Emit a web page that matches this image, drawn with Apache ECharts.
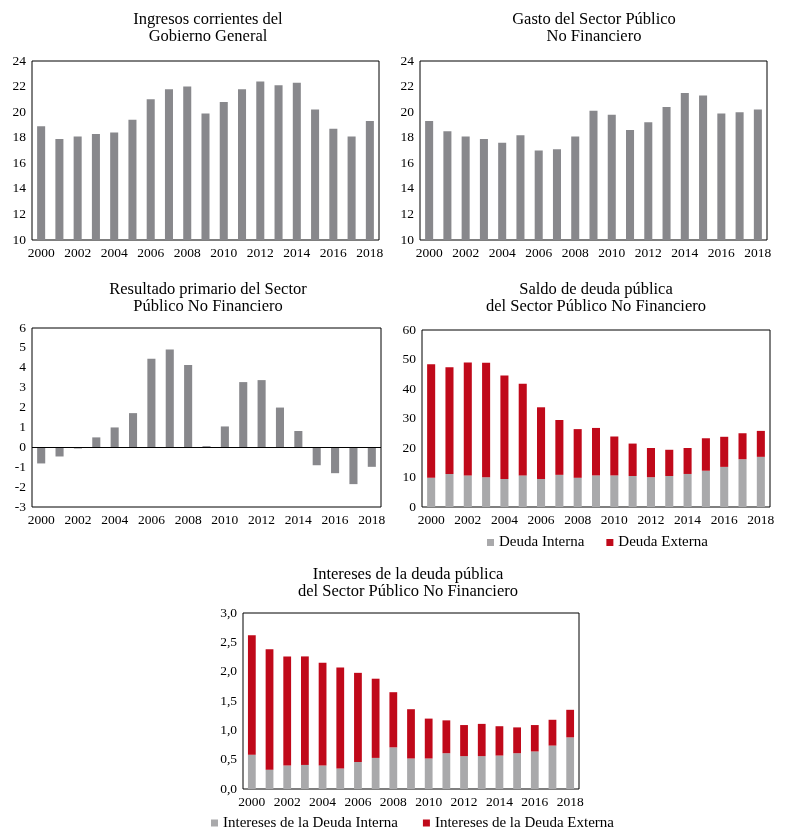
<!DOCTYPE html>
<html>
<head>
<meta charset="utf-8">
<script src="https://cdn.jsdelivr.net/npm/echarts@6/dist/echarts.min.js"></script>
<style>
html,body{margin:0;padding:0;background:#fff;}
#c{width:788px;height:838px;}
</style>
</head>
<body>
<div id="c"></div>
<script>
const years = ['2000','2001','2002','2003','2004','2005','2006','2007','2008','2009','2010','2011','2012','2013','2014','2015','2016','2017','2018'];

const ingresos = [18.9,17.9,18.1,18.3,18.4,19.4,21.0,21.8,22.0,19.9,20.8,21.8,22.4,22.1,22.3,20.2,18.7,18.1,19.3];
const gasto = [19.3,18.5,18.1,17.9,17.6,18.2,17.0,17.1,18.1,20.1,19.8,18.6,19.2,20.4,21.5,21.3,19.9,20.0,20.2];
const resultado = [-0.81,-0.46,-0.06,0.5,1.0,1.72,4.46,4.92,4.14,0.06,1.05,3.28,3.38,2.0,0.82,-0.9,-1.3,-1.85,-0.98];

const deudaInterna = [9.9,11.2,10.7,10.1,9.5,10.7,9.5,10.9,9.9,10.7,10.7,10.5,10.1,10.5,11.2,12.3,13.6,16.2,17.0];
const deudaExterna = [38.5,36.2,38.3,38.8,35.1,31.1,24.3,18.6,16.5,16.1,13.2,11.0,9.9,8.9,8.8,11.0,10.2,8.8,8.8];

const interesesInterna = [0.585,0.33,0.40,0.41,0.40,0.35,0.46,0.53,0.71,0.52,0.52,0.61,0.56,0.56,0.57,0.61,0.64,0.74,0.88];
const interesesExterna = [2.035,2.05,1.86,1.85,1.75,1.72,1.52,1.35,0.94,0.84,0.68,0.56,0.53,0.55,0.50,0.44,0.45,0.44,0.47];

const FONT = 'Liberation Serif';
const GRAY = '#88888c';
const LGRAY = '#a9a9ab';
const RED = '#c0091a';

const grids = [
  {left:32, top:61, width:347, height:179},
  {left:420, top:61, width:347, height:179},
  {left:32, top:328, width:349, height:179},
  {left:422, top:330, width:348, height:177},
  {left:243, top:613, width:336, height:176}
];
grids.forEach(g => { g.show = true; g.borderColor = '#000'; g.borderWidth = 1; g.backgroundColor = 'transparent'; });

function xAx(i){
  return {
    type:'category', gridIndex:i, data:years,
    axisLine:{show:false, onZero:false}, axisTick:{show:false},
    axisLabel:{interval:1, color:'#000', fontFamily:FONT, fontSize:13.5, margin:6}
  };
}
function yAx(i,min,max,interval,fmt){
  return {
    type:'value', gridIndex:i, min:min, max:max, interval:interval,
    axisLine:{show:false}, axisTick:{show:false}, splitLine:{show:false},
    axisLabel:{color:'#000', fontFamily:FONT, fontSize:13.5, margin:6, formatter:fmt}
  };
}
const titleStyle = {color:'#000', fontFamily:FONT, fontSize:16.5, fontWeight:'normal', lineHeight:17};
function ttl(text,x,y){
  return {text:text, left:x, top:y, textAlign:'center', padding:0, itemGap:0, textStyle:titleStyle};
}
const BW = '44%';
const legText = {color:'#000', fontFamily:FONT, fontSize:15};

const option = {
  animation:false,
  backgroundColor:'#fff',
  title:[
    ttl('Ingresos corrientes del\nGobierno General',208,11.5),
    ttl('Gasto del Sector Público\nNo Financiero',594,11.5),
    ttl('Resultado primario del Sector\nPúblico No Financiero',208,281.5),
    ttl('Saldo de deuda pública\ndel Sector Público No Financiero',596,281.5),
    ttl('Intereses de la deuda pública\ndel Sector Público No Financiero',408,566.5)
  ],
  legend:[
    {left:487, top:535, padding:0, icon:'rect', itemWidth:7, itemHeight:7, itemGap:22,
     textStyle:legText, data:['Deuda Interna','Deuda Externa']},
    {left:211, top:815.5, padding:0, icon:'rect', itemWidth:7, itemHeight:7, itemGap:25,
     textStyle:legText, data:['Intereses de la Deuda Interna','Intereses de la Deuda Externa']}
  ],
  grid:grids,
  xAxis:[xAx(0),xAx(1),xAx(2),xAx(3),xAx(4)],
  yAxis:[
    yAx(0,10,24,2),
    yAx(1,10,24,2),
    yAx(2,-3,6,1),
    yAx(3,0,60,10),
    yAx(4,0,3,0.5,v=>v.toFixed(1).replace('.',','))
  ],
  series:[
    {type:'bar', name:'Ingresos', xAxisIndex:0, yAxisIndex:0, data:ingresos, barWidth:BW, itemStyle:{color:GRAY}},
    {type:'bar', name:'Gasto', xAxisIndex:1, yAxisIndex:1, data:gasto, barWidth:BW, itemStyle:{color:GRAY}},
    {type:'bar', name:'Resultado', xAxisIndex:2, yAxisIndex:2, data:resultado, barWidth:BW, itemStyle:{color:GRAY},
     markLine:{silent:true, symbol:'none', label:{show:false}, lineStyle:{color:'#000', type:'solid', width:1}, data:[{yAxis:0}]}},
    {type:'bar', name:'Deuda Interna', xAxisIndex:3, yAxisIndex:3, stack:'d', data:deudaInterna, barWidth:BW, itemStyle:{color:LGRAY}},
    {type:'bar', name:'Deuda Externa', xAxisIndex:3, yAxisIndex:3, stack:'d', data:deudaExterna, barWidth:BW, itemStyle:{color:RED}},
    {type:'bar', name:'Intereses de la Deuda Interna', xAxisIndex:4, yAxisIndex:4, stack:'i', data:interesesInterna, barWidth:BW, itemStyle:{color:LGRAY}},
    {type:'bar', name:'Intereses de la Deuda Externa', xAxisIndex:4, yAxisIndex:4, stack:'i', data:interesesExterna, barWidth:BW, itemStyle:{color:RED}}
  ]
};
const chart = echarts.init(document.getElementById('c'), null, {renderer:'canvas'});
chart.setOption(option);
</script>
</body>
</html>
